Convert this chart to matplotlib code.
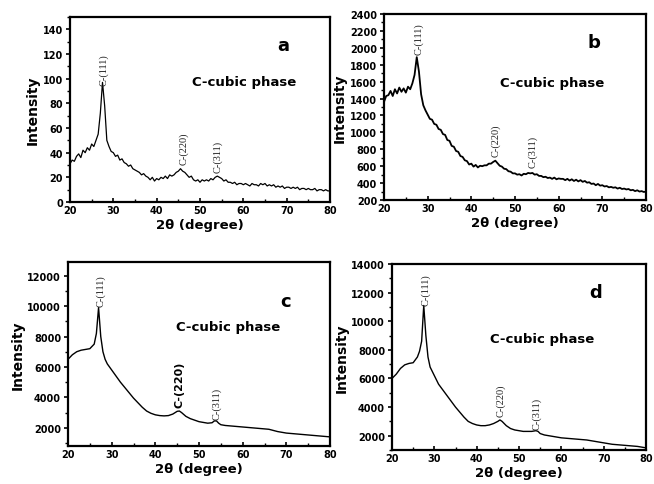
import numpy as np
import matplotlib
matplotlib.use('Agg')
import matplotlib.pyplot as plt
from matplotlib.ticker import MultipleLocator

# 2-theta grid for the noisy scans (a, b): 20..80 every 0.5 degree
theta_ab = np.linspace(20, 80, 121)

intensity_a = [
    31, 34, 33, 37, 39, 36, 42, 40, 44, 42,
    47, 45, 50, 55, 72, 97, 78, 50, 45, 41,
    40, 37, 38, 34, 35, 32, 31, 29, 30, 27,
    26, 25, 24, 22, 23, 21, 20, 18, 20, 17,
    19, 18, 20, 19, 21, 19, 22, 21, 22, 24,
    25, 27, 25, 24, 22, 20, 21, 18, 17, 18,
    16, 18, 17, 18, 17, 19, 18, 20, 21, 20,
    19, 17, 18, 16, 16, 15, 16, 14, 15, 15,
    14, 15, 14, 13, 15, 14, 14, 13, 15, 14,
    15, 13, 14, 13, 14, 12, 13, 12, 13, 11,
    12, 12, 11, 12, 11, 12, 10, 11, 11, 10,
    11, 10, 10, 11, 9, 10, 10, 9, 10, 9,
    9,
]

intensity_b = [
    1360, 1430, 1440, 1490, 1430, 1510, 1460, 1530, 1480, 1520,
    1470, 1540, 1510, 1580, 1680, 1890, 1720, 1450, 1320, 1260,
    1210, 1160, 1150, 1100, 1090, 1040, 1030, 980, 970, 910,
    900, 840, 830, 780, 770, 720, 710, 670, 660, 620,
    630, 595, 615, 585, 605, 600, 610, 610, 630, 630,
    650, 665, 635, 605, 595, 570, 565, 540, 535, 515,
    515, 500, 505, 490, 510, 505, 520, 515, 520, 500,
    505, 485, 485, 470, 475, 460, 465, 450, 465, 445,
    455, 450, 450, 435, 450, 430, 445, 425, 440, 420,
    435, 415, 425, 405, 410, 390, 395, 375, 390, 370,
    375, 360, 365, 350, 355, 345, 350, 335, 345, 330,
    335, 325, 330, 315, 320, 305, 315, 300, 305, 295,
    300,
]

# smoother scans (c, d)
theta_c = [20, 21, 22, 23, 24, 25, 26, 26.5, 27, 27.5, 28, 28.5, 29, 30, 31, 32,
           33, 34, 35, 36, 37, 38, 39, 40, 41, 42, 43, 44, 45, 45.5, 46, 47, 48,
           49, 50, 51, 52, 53, 53.5, 54, 54.5, 55, 56, 58, 60, 62, 64, 66, 68,
           70, 72, 74, 76, 78, 80]
intensity_c = [6500, 6800, 7000, 7100, 7150, 7200, 7500, 8200, 9900, 8000, 7000,
               6500, 6200, 5800, 5400, 5000, 4650, 4300, 3950, 3650, 3350, 3100,
               2950, 2850, 2800, 2780, 2800, 2900, 3080, 3100, 3000, 2750, 2600,
               2500, 2400, 2350, 2300, 2330, 2450, 2450, 2300, 2200, 2150, 2100,
               2050, 2000, 1950, 1900, 1750, 1650, 1600, 1550, 1500, 1450, 1400]

theta_d = [20, 21, 22, 23, 24, 25, 26, 26.5, 27, 27.5, 28, 28.5, 29, 30, 31, 32,
           33, 34, 35, 36, 37, 38, 39, 40, 41, 42, 43, 44, 45, 45.5, 46, 47, 48,
           49, 50, 51, 52, 53, 54, 54.5, 55, 56, 58, 60, 62, 64, 66, 68, 70, 72,
           74, 76, 78, 80]
intensity_d = [6000, 6300, 6700, 6950, 7050, 7100, 7500, 7900, 8600, 11100, 9000,
               7500, 6800, 6200, 5600, 5200, 4800, 4400, 4000, 3650, 3300, 3000,
               2850, 2750, 2700, 2700, 2750, 2850, 3000, 3100, 3000, 2700, 2500,
               2400, 2350, 2300, 2300, 2300, 2350, 2300, 2150, 2050, 1950, 1850,
               1800, 1750, 1700, 1600, 1500, 1400, 1350, 1300, 1250, 1150]

peak_labels = ['C-(111)', 'C-(220)', 'C-(311)']
# (x, y bottom) of each peak label per panel
peaks_a = [(27.8, 95), (46.3, 31), (54.2, 24)]
peaks_b = [(28.0, 1930), (45.6, 720), (54.1, 590)]
peaks_c = [(27.5, 10030), (45.6, 3380), (54.1, 2600)]
peaks_d = [(28.0, 11120), (45.7, 3400), (54.3, 2490)]

fig = plt.figure(figsize=(6.54, 4.85), dpi=100)
W, H = 654, 485


def add_axes(l, t, r, b):
    return fig.add_axes([l / W, 1 - b / H, (r - l) / W, (b - t) / H])


panels = [
    dict(rect=(70, 18, 330, 203), x=theta_ab, y=intensity_a, ylim=(0, 150),
         ymaj=20, ymin=10, peaks=peaks_a, letter='a', lpos=(0.82, 0.85),
         ppos=(0.67, 0.65), bold220=False, lw=0.9),
    dict(rect=(384, 15, 646, 201), x=theta_ab, y=intensity_b, ylim=(200, 2400),
         ymaj=200, ymin=100, peaks=peaks_b, letter='b', lpos=(0.80, 0.85),
         ppos=(0.64, 0.63), bold220=False, lw=1.3),
    dict(rect=(68, 263, 330, 447), x=theta_c, y=intensity_c, ylim=(800, 12900),
         ymaj=2000, ymin=1000, peaks=peaks_c, letter='c', lpos=(0.83, 0.79),
         ppos=(0.61, 0.65), bold220=True, lw=1.0),
    dict(rect=(392, 265, 646, 451), x=theta_d, y=intensity_d, ylim=(1000, 14000),
         ymaj=2000, ymin=1000, peaks=peaks_d, letter='d', lpos=(0.80, 0.85),
         ppos=(0.59, 0.60), bold220=False, lw=1.0),
]

for p in panels:
    ax = add_axes(*p['rect'])
    ax.plot(p['x'], p['y'], color='black', lw=p['lw'])
    ax.set_xlim(20, 80)
    ax.set_ylim(*p['ylim'])
    ax.xaxis.set_major_locator(MultipleLocator(10))
    ax.xaxis.set_minor_locator(MultipleLocator(5))
    ax.yaxis.set_major_locator(MultipleLocator(p['ymaj']))
    ax.yaxis.set_minor_locator(MultipleLocator(p['ymin']))
    ax.tick_params(axis='x', which='both', direction='in', top=False)
    ax.tick_params(axis='y', which='both', direction='out', right=False)
    ax.tick_params(which='major', length=3, width=1.2, labelsize=7, pad=2)
    ax.tick_params(which='minor', length=2, width=1)
    for lab in ax.get_xticklabels() + ax.get_yticklabels():
        lab.set_fontweight('bold')
    for s in ax.spines.values():
        s.set_linewidth(1.6)
    ax.set_xlabel('2θ (degree)', fontsize=9.5, fontweight='bold', labelpad=2)
    ax.set_ylabel('Intensity', fontsize=10, fontweight='bold', labelpad=2)
    ax.text(p['lpos'][0], p['lpos'][1], p['letter'], transform=ax.transAxes,
            fontsize=13, fontweight='bold', ha='center', va='center')
    ax.text(p['ppos'][0], p['ppos'][1], 'C-cubic phase', transform=ax.transAxes,
            fontsize=9.5, fontweight='bold', ha='center', va='center')
    for i, (px, py) in enumerate(p['peaks']):
        if p['bold220'] and i == 1:
            ax.text(px, py, peak_labels[i], rotation=90, ha='center', va='bottom',
                    fontsize=8, fontweight='bold', family='DejaVu Sans')
        else:
            ax.text(px, py, peak_labels[i], rotation=90, ha='center', va='bottom',
                    fontsize=7.5, family='Liberation Serif', color='#222222')

fig.savefig('out.png', dpi=100)
